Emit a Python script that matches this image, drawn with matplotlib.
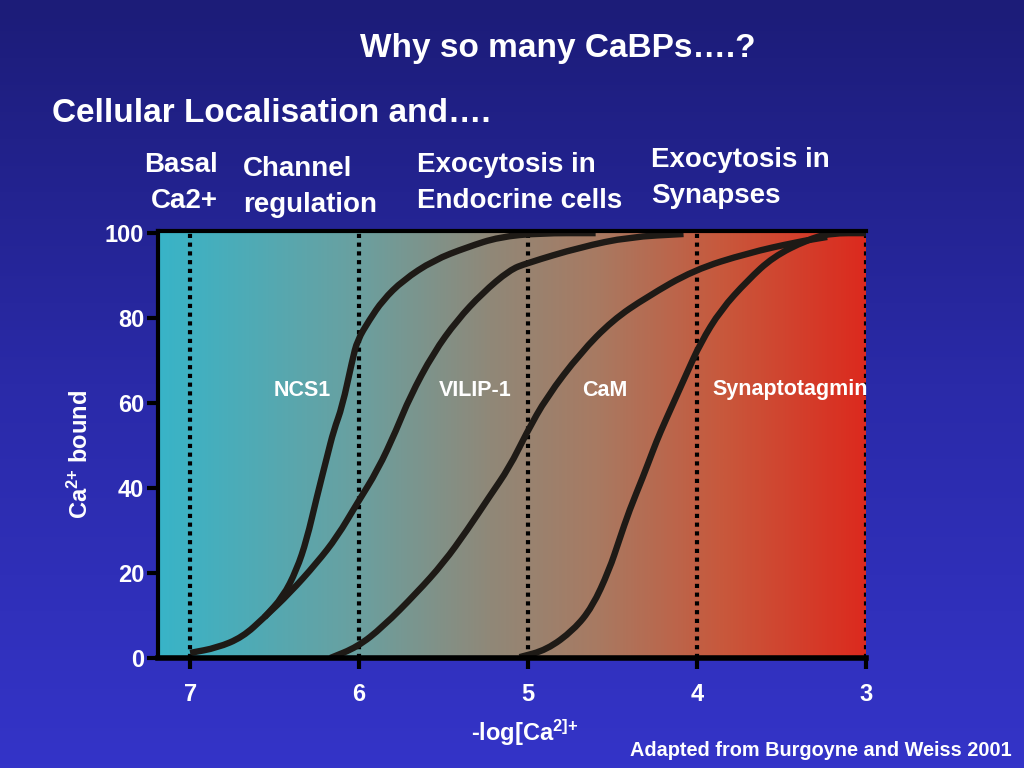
import numpy as np
import matplotlib
matplotlib.use("Agg")
import matplotlib.pyplot as plt
from matplotlib.colors import LinearSegmentedColormap
from matplotlib.path import Path
from matplotlib.patches import PathPatch

plt.rcParams['font.family'] = ['Liberation Sans', 'DejaVu Sans']
plt.rcParams['font.weight'] = 'bold'
plt.rcParams['mathtext.fontset'] = 'custom'
plt.rcParams['mathtext.rm'] = 'Liberation Sans:bold'
plt.rcParams['mathtext.bf'] = 'Liberation Sans:bold'
plt.rcParams['mathtext.it'] = 'Liberation Sans:bold'

# ---- data ----
ncs1_x = [6.56, 6.45, 6.37, 6.31, 6.25, 6.19, 6.15, 6.10, 6.04, 6.01, 5.94, 5.86, 5.74, 5.56, 5.36, 5.17, 4.93, 4.60]
ncs1_y = [9.6, 14.4, 20.7, 27.8, 37.9, 47.3, 53.6, 59.1, 70.1, 74.8, 79.5, 84.2, 88.9, 93.6, 96.7, 99.1, 100, 100]

vilip_x = [7.00, 6.84, 6.69, 6.56, 6.41, 6.25, 6.13, 6.01, 5.89, 5.78, 5.70, 5.56, 5.42, 5.27, 5.11, 5.01, 4.69, 4.40, 4.08]
vilip_y = [1.2, 2.4, 4.9, 9.6, 15.3, 22.4, 28.5, 36.5, 44.2, 53.6, 61.4, 71.8, 79.5, 85.9, 91.3, 92.9, 96.7, 99.1, 99.8]

cam_x = [6.17, 6.01, 5.86, 5.66, 5.50, 5.36, 5.23, 5.11, 5.01, 4.89, 4.69, 4.50, 4.30, 4.02, 3.70, 3.41, 3.23]
cam_y = [0.0, 2.6, 7.3, 15.3, 22.4, 30.1, 37.9, 44.9, 52.9, 61.4, 71.8, 79.5, 84.9, 91.3, 95.3, 97.9, 99.1]

syt_x = [5.05, 4.89, 4.73, 4.62, 4.52, 4.46, 4.40, 4.32, 4.26, 4.22, 4.14, 4.06, 3.98, 3.86, 3.70, 3.55, 3.35, 3.21, 3.00]
syt_y = [0.2, 1.9, 6.6, 12.0, 20.7, 27.8, 34.8, 42.6, 48.9, 52.9, 60.0, 67.1, 74.1, 81.9, 88.9, 94.4, 98.4, 100, 100]

x_ticks = [7, 6, 5, 4, 3]
y_ticks = [0, 20, 40, 60, 80, 100]
marker_lines = [7, 6, 5, 4, 3]

curve_labels = ["NCS1", "VILIP-1", "CaM", "Synaptotagmin"]
header_labels = ["Basal\nCa2+", "Channel\nregulation", "Exocytosis in\nEndocrine cells", "Exocytosis in\nSynapses"]

W, H = 1024, 768
fig = plt.figure(figsize=(W / 100, H / 100), dpi=100)

# background vertical gradient
bg = fig.add_axes([0, 0, 1, 1], zorder=-10)
bg_cmap = LinearSegmentedColormap.from_list("bg", ["#1c1c78", "#2a2aa8", "#3434c8"])
bg.imshow(np.linspace(0, 1, 256).reshape(-1, 1), cmap=bg_cmap, aspect='auto', extent=[0, 1, 0, 1])
bg.set_axis_off()


def fx(px):
    return px / W


def fy(py):
    return 1 - py / H


left, right, top, bottom = 158, 866, 231, 658
ax = fig.add_axes([fx(left), fy(bottom), (right - left) / W, (bottom - top) / H])
xmin, xmax = 7.19, 3.0
ymin, ymax = 0, 100.5
ax.set_xlim(xmin, xmax)
ax.set_ylim(ymin, ymax)
ax.patch.set_alpha(0)

# plot-area horizontal gradient
pa_cmap = LinearSegmentedColormap.from_list(
    "pa", [(0.0, "#38b4c8"), (0.28, "#6aa0a0"), (0.47, "#908878"), (0.62, "#a87a62"),
           (0.80, "#c8583c"), (1.0, "#dc2a1e")])
ax.imshow(np.linspace(0, 1, 512).reshape(1, -1), cmap=pa_cmap, aspect='auto',
          extent=[xmin, xmax, ymin, ymax], zorder=0)

for xv in marker_lines:
    ax.axvline(xv, color='black', lw=3, linestyle=(0, (1, 1.1)), zorder=1)


def smooth_path(xs, ys):
    pts = list(zip(xs, ys))
    verts = [pts[0]]
    codes = [Path.MOVETO]
    mid = lambda a, b: ((a[0] + b[0]) / 2, (a[1] + b[1]) / 2)
    verts.append(mid(pts[0], pts[1]))
    codes.append(Path.LINETO)
    for i in range(1, len(pts) - 1):
        verts += [pts[i], mid(pts[i], pts[i + 1])]
        codes += [Path.CURVE3, Path.CURVE3]
    verts.append(pts[-1])
    codes.append(Path.LINETO)
    return Path(verts, codes)


for xs, ys in [(ncs1_x, ncs1_y), (vilip_x, vilip_y), (cam_x, cam_y), (syt_x, syt_y)]:
    ax.add_patch(PathPatch(smooth_path(xs, ys), fill=False, edgecolor='#1e1a16', lw=4.6,
                           capstyle='butt', joinstyle='round', zorder=3))

ax.set_xticks(x_ticks)
ax.set_yticks(y_ticks)
ax.tick_params(axis='both', colors='black', width=3, length=8, labelcolor='white', labelsize=17)
ax.tick_params(axis='x', pad=10)
ax.tick_params(axis='y', pad=2)
for lab in ax.get_xticklabels() + ax.get_yticklabels():
    lab.set_fontweight('bold')
for s in ['left', 'bottom', 'top']:
    ax.spines[s].set_color('black')
ax.spines['left'].set_linewidth(3)
ax.spines['bottom'].set_linewidth(4)
ax.spines['top'].set_linewidth(3)
ax.spines['right'].set_visible(False)
for sp in ax.spines.values():
    sp.set_zorder(5)

# curve labels
label_pos = [(302, 390), (475, 390), (605, 390), (790, 390)]
for txt, (px, py) in zip(curve_labels, label_pos):
    fig.text(fx(px), fy(py), txt, color='white', fontsize=15.5, fontweight='bold', ha='center', va='center')

# headers
hs = 20
ls = 1.5
fig.text(fx(218), fy(183), header_labels[0], color='white', fontsize=hs, fontweight='bold', ha='right', va='center', linespacing=ls, multialignment='right')
fig.text(fx(243), fy(187), header_labels[1], color='white', fontsize=hs, fontweight='bold', ha='left', va='center', linespacing=ls)
fig.text(fx(417), fy(183), header_labels[2], color='white', fontsize=hs, fontweight='bold', ha='left', va='center', linespacing=ls)
fig.text(fx(651), fy(178), header_labels[3], color='white', fontsize=hs, fontweight='bold', ha='left', va='center', linespacing=ls)

# titles
fig.text(fx(558), fy(48), "Why so many CaBPs….?", color='white', fontsize=24, fontweight='bold', ha='center', va='center')
fig.text(fx(52), fy(113), "Cellular Localisation and….", color='white', fontsize=24, fontweight='bold', ha='left', va='center')

# axis labels
fig.text(fx(80), fy(454), r"Ca$^{\text{2+}}$ bound", color='white', fontsize=17, fontweight='bold', rotation=90, ha='center', va='center')
fig.text(fx(525), fy(733), r"-log[Ca$^{\text{2]+}}$", color='white', fontsize=17, fontweight='bold', ha='center', va='center')
fig.text(fx(1012), fy(750), "Adapted from Burgoyne and Weiss 2001", color='white', fontsize=14.3, fontweight='bold', ha='right', va='center')

fig.savefig("out.png", dpi=100)
